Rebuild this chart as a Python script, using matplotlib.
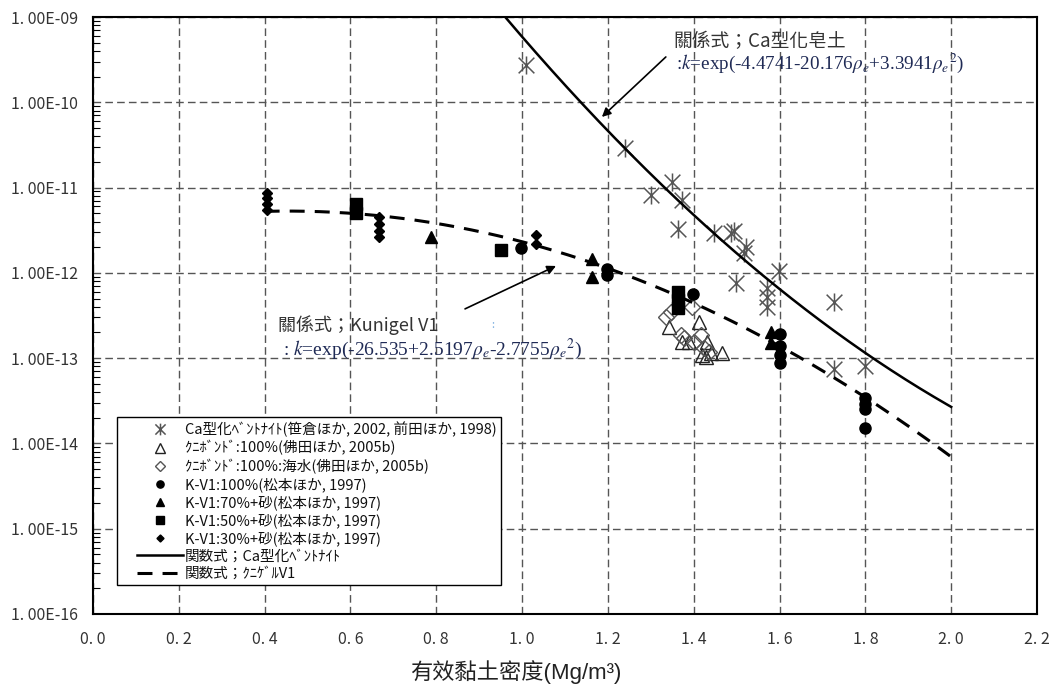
import numpy as np
import matplotlib
matplotlib.use("Agg")
import matplotlib.pyplot as plt
from matplotlib.path import Path
from matplotlib.lines import Line2D
from matplotlib.legend_handler import HandlerLine2D

# ---------------- data ----------------
ca_rho = [1.009, 1.240, 1.300, 1.349, 1.372, 1.363, 1.447, 1.486, 1.495, 1.521,
          1.516, 1.598, 1.498, 1.570, 1.570, 1.570, 1.728, 1.728, 1.798]
ca_k = [2.7e-10, 2.9e-11, 8.2e-12, 1.17e-11, 7.2e-12, 3.3e-12, 2.9e-12, 2.9e-12,
        3.1e-12, 2.0e-12, 1.7e-12, 1.05e-12, 7.6e-13, 6.6e-13, 5.2e-13, 4.0e-13,
        4.5e-13, 7.5e-14, 8.0e-14]

kb_rho = [1.342, 1.412, 1.388, 1.372, 1.430, 1.440, 1.428, 1.465, 1.420]
kb_k = [2.32e-13, 2.66e-13, 1.55e-13, 1.55e-13, 1.55e-13, 1.15e-13, 1.03e-13,
        1.15e-13, 1.10e-13]

kbsw_rho = [1.335, 1.347, 1.370, 1.377, 1.400, 1.416, 1.423, 1.435, 1.395]
kbsw_k = [3.04e-13, 3.5e-13, 1.87e-13, 1.7e-13, 1.55e-13, 1.87e-13, 1.32e-13,
          1.18e-13, 4.0e-13]

kv100_rho = [0.998, 1.198, 1.198, 1.398, 1.600, 1.600, 1.600, 1.600,
             1.798, 1.798, 1.798, 1.798]
kv100_k = [1.95e-12, 1.11e-12, 9.4e-13, 5.6e-13, 1.9e-13, 1.4e-13, 1.1e-13, 8.8e-14,
           3.4e-14, 2.9e-14, 2.5e-14, 1.52e-14]

kv70_rho = [0.788, 1.163, 1.163, 1.579, 1.579]
kv70_k = [2.6e-12, 1.46e-12, 8.9e-13, 2.03e-13, 1.5e-13]

kv50_rho = [0.614, 0.614, 0.951, 1.363, 1.363, 1.363]
kv50_k = [6.45e-12, 5.1e-12, 1.86e-12, 6.0e-13, 4.8e-13, 3.9e-13]

kv30_rho = [0.405, 0.405, 0.405, 0.405, 0.667, 0.667, 0.667, 0.667, 1.033, 1.033]
kv30_k = [8.65e-12, 7.6e-12, 6.45e-12, 5.5e-12, 4.5e-12, 3.7e-12, 3.1e-12, 2.6e-12,
          2.8e-12, 2.2e-12]

# fitted relations shown on the chart: k = exp(a + b*rho + c*rho^2)
ca_coef = [-4.4741, -20.176, 3.3941]
ca_range = [0.9, 2.0]
kun_coef = [-26.535, 2.5197, -2.7755]
kun_range = [0.4, 2.0]

labels = [
    "Ca型化ﾍﾞﾝﾄﾅｲﾄ(笹倉ほか, 2002, 前田ほか, 1998)",
    "ｸﾆﾎﾞﾝﾄﾞ:100%(佛田ほか, 2005b)",
    "ｸﾆﾎﾞﾝﾄﾞ:100%:海水(佛田ほか, 2005b)",
    "K-V1:100%(松本ほか, 1997)",
    "K-V1:70%+砂(松本ほか, 1997)",
    "K-V1:50%+砂(松本ほか, 1997)",
    "K-V1:30%+砂(松本ほか, 1997)",
    "関数式；Ca型化ﾍﾞﾝﾄﾅｲﾄ",
    "関数式；ｸﾆｹﾞﾙV1",
]

xticks = [0.0, 0.2, 0.4, 0.6, 0.8, 1.0, 1.2, 1.4, 1.6, 1.8, 2.0, 2.2]
xtick_labels = ["0. 0", "0. 2", "0. 4", "0. 6", "0. 8", "1. 0", "1. 2", "1. 4",
                "1. 6", "1. 8", "2. 0", "2. 2"]
yticks = [1e-16, 1e-15, 1e-14, 1e-13, 1e-12, 1e-11, 1e-10, 1e-9]
ytick_labels = ["1. 00E-16", "1. 00E-15", "1. 00E-14", "1. 00E-13", "1. 00E-12",
                "1. 00E-11", "1. 00E-10", "1. 00E-09"]
xlabel = "有效黏土密度(Mg/m³)"

# ---------------- style ----------------
plt.rcParams['font.family'] = ['Noto Sans CJK JP', 'DejaVu Sans']
plt.rcParams['mathtext.fontset'] = 'stix'

fig = plt.figure(figsize=(10.6, 6.98), dpi=100)
ax = fig.add_axes([93 / 1060, 1 - 614 / 698, 944 / 1060, 597 / 698])

ast = Path([(-1, -1), (1, 1), (-1, 1), (1, -1), (0, -1.15), (0, 1.15)],
           [Path.MOVETO, Path.LINETO] * 3)

ax.plot(ca_rho, ca_k, ls='none', marker=ast, ms=13, mfc='none', mec='#555555',
        mew=1.1, label=labels[0], zorder=3)
ax.plot(kb_rho, kb_k, ls='none', marker='^', ms=10, mfc='none', mec='#222222',
        mew=1.0, label=labels[1], zorder=3)
ax.plot(kbsw_rho, kbsw_k, ls='none', marker='D', ms=8, mfc='none', mec='#555555',
        mew=1.0, label=labels[2], zorder=3)
ax.plot(kv100_rho, kv100_k, ls='none', marker='o', ms=8, color='black',
        label=labels[3], zorder=4)
ax.plot(kv70_rho, kv70_k, ls='none', marker='^', ms=8.5, color='black',
        label=labels[4], zorder=4)
ax.plot(kv50_rho, kv50_k, ls='none', marker='s', ms=8, color='black',
        label=labels[5], zorder=4)
ax.plot(kv30_rho, kv30_k, ls='none', marker='D', ms=5.5, color='black',
        label=labels[6], zorder=4)

r1 = np.linspace(ca_range[0], ca_range[1], 300)
ax.plot(r1, np.exp(ca_coef[0] + ca_coef[1] * r1 + ca_coef[2] * r1 ** 2),
        color='black', lw=1.8, label=labels[7], zorder=5)
r2 = np.linspace(kun_range[0], kun_range[1], 300)
ax.plot(r2, np.exp(kun_coef[0] + kun_coef[1] * r2 + kun_coef[2] * r2 ** 2),
        color='black', lw=2.2, ls=(0, (4.9, 3.3)), label=labels[8], zorder=5)

ax.set_yscale('log')
ax.set_xlim(0.0, 2.2)
ax.set_ylim(1e-16, 1e-9)
ax.set_xticks(xticks)
ax.set_xticklabels(xtick_labels)
ax.set_yticks(yticks)
ax.set_yticklabels(ytick_labels)
ax.tick_params(axis='x', which='both', length=0, pad=12, labelsize=11.5,
               labelcolor='#333333')
ax.tick_params(axis='y', which='major', length=0, pad=11, labelsize=11.5,
               labelcolor='#333333')
ax.tick_params(axis='y', which='minor', direction='in', length=5, width=0.8,
               left=True, right=False)
ax.grid(True, which='major', color='#555555', lw=1.0, ls=(0, (5.5, 3)))
ax.set_axisbelow(True)
for s in ax.spines.values():
    s.set_linewidth(1.5)
    s.set_color('black')

ax.set_xlabel(xlabel, fontsize=16, family=['Liberation Sans', 'Noto Sans CJK TC'],
              color='#222222')
ax.xaxis.set_label_coords(0.448, -0.078)

# annotations
ax.text(1.353, 5.09e-10, "關係式；Ca型化皂土", fontsize=13.5, color='#333333',
        family=['Noto Sans CJK TC', 'DejaVu Sans'], va='center', ha='left')
ax.text(1.358, 2.89e-10, r':$k$=exp(-4.4741-20.176$\rho_e$+3.3941$\rho_e{}^2$)',
        fontsize=13.8, color='#1F2A55', family='Liberation Serif',
        va='center', ha='left')
ax.annotate('', xy=(1.186, 6.73e-11), xytext=(1.335, 3.4e-10),
            arrowprops=dict(arrowstyle='-|>', color='black', lw=1.2,
                            mutation_scale=13, shrinkA=0, shrinkB=0))

ax.text(0.430, 2.45e-13, "關係式；Kunigel V1", fontsize=13, color='#333333',
        family=['Noto Sans CJK TC', 'DejaVu Sans'], va='center', ha='left')
ax.text(0.442, 1.25e-13, r': $k$=exp(-26.535+2.5197$\rho_e$-2.7755$\rho_e{}^2$)',
        fontsize=14, color='#1F2A55', family='Liberation Serif',
        va='center', ha='left')
ax.text(0.932, 2.45e-13, ":", fontsize=8, color='#7fb0e0', va='center', ha='center')
ax.annotate('', xy=(1.079, 1.205e-12), xytext=(0.867, 3.78e-13),
            arrowprops=dict(arrowstyle='-|>', color='black', lw=1.2,
                            mutation_scale=13, shrinkA=0, shrinkB=0))

leg = ax.legend(loc='lower left', bbox_to_anchor=((117 - 93) / 944, (614 - 585) / 597),
                borderaxespad=0, fontsize=10.5, frameon=True, fancybox=False,
                edgecolor='black', framealpha=1, borderpad=0.3,
                handlelength=4.22, handletextpad=0.14, labelspacing=0.22,
                numpoints=1, markerscale=0.65,
                handler_map={Line2D: HandlerLine2D(xpad=1.07)})
leg.get_frame().set_linewidth(1.0)
for t in leg.get_texts():
    t.set_color('#111111')

fig.savefig('out.png', dpi=100)
